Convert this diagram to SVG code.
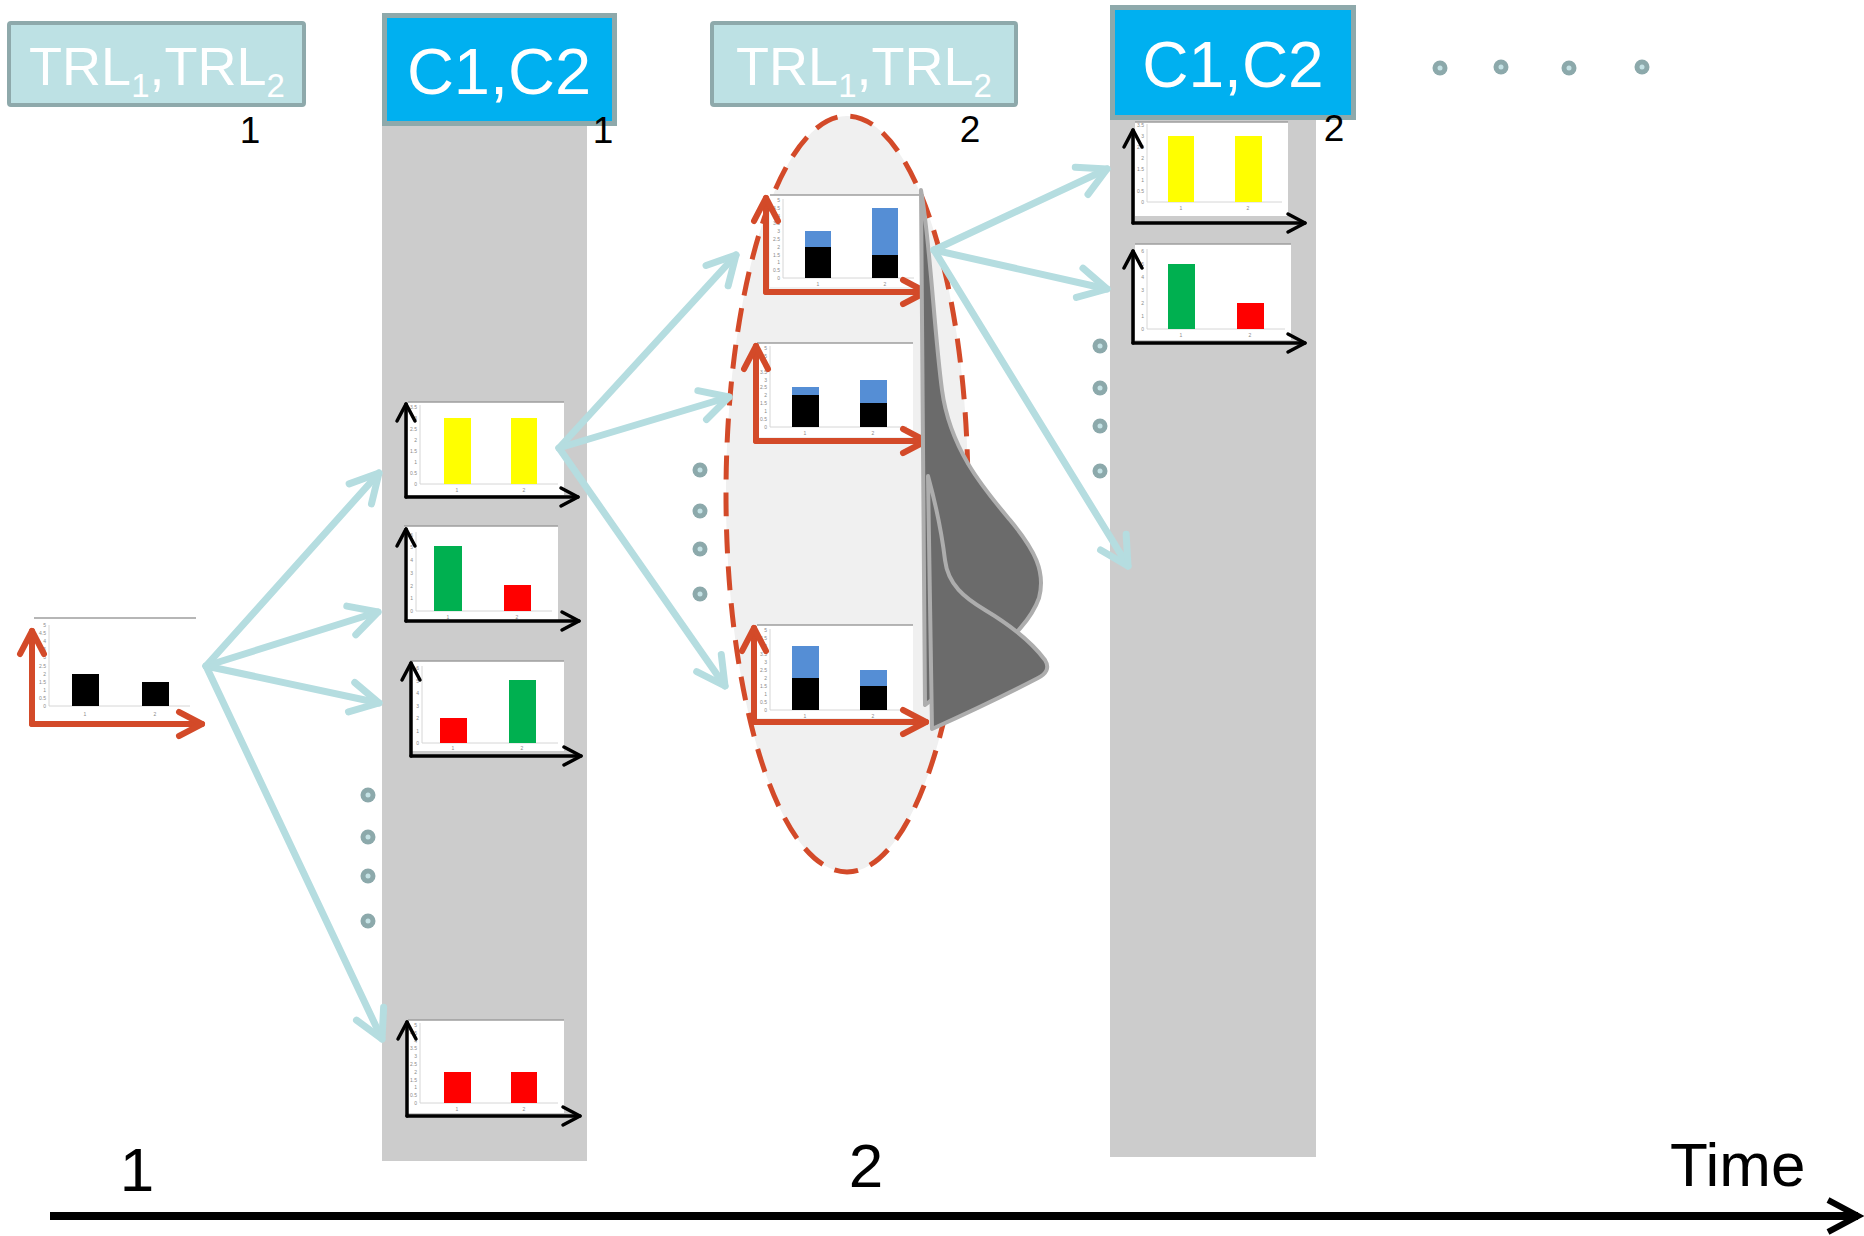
<svg xmlns="http://www.w3.org/2000/svg" width="1864" height="1236" viewBox="0 0 1864 1236">
  <defs>
    <style>
      text { font-family: "Liberation Sans", Arial, sans-serif; }
      .trl { fill: #BDE1E4; stroke: #8EA9AB; stroke-width: 4; }
      .cc { fill: #00B0F0; stroke: #8EA9AB; stroke-width: 5; }
      .hdr { fill: #FFFFFF; text-anchor: middle; }
      .idx { fill: #000; font-size: 37px; text-anchor: middle; }
      .col { fill: #CCCCCC; }
      .frame { fill: #FFFFFF; }
      .topline { stroke: #9E9E9E; stroke-width: 1.5; }
      .plot { stroke: #D6D6D6; stroke-width: 1; fill: none; }
      .tk { font-size: 5px; fill: #8A8A8A; text-anchor: end; }
      .xl { font-size: 5px; fill: #8A8A8A; text-anchor: middle; }
      .k { fill: #000; }
      .bl { fill: #558ED5; }
      .ye { fill: #FFFF00; }
      .gr { fill: #00B050; }
      .rd { fill: #FF0000; }
      .ax-k { stroke: #000; stroke-width: 3.5; fill: none; stroke-linecap: round; marker-end: url(#hdK); }
      .ax-r { stroke: #D34A29; stroke-width: 6; fill: none; stroke-linecap: round; marker-end: url(#hdR); }
      .conn { stroke: #B5DDE0; stroke-width: 7; fill: none; stroke-linecap: round; marker-end: url(#hdB); }
      .dot { fill: #8CA9AB; }
      .dotc { fill: #C4E2E5; }
      .dist { fill: #6B6B6B; stroke: #ADADAD; stroke-width: 4; stroke-linejoin: round; }
    </style>
    <marker id="hdB" markerUnits="userSpaceOnUse" markerWidth="60" markerHeight="60" refX="0" refY="0" orient="auto" overflow="visible">
      <path d="M-28,-15 L0,0 L-28,15" fill="none" stroke="#B5DDE0" stroke-width="7" stroke-linecap="round" stroke-linejoin="round"/>
    </marker>
    <marker id="hdR" markerUnits="userSpaceOnUse" markerWidth="50" markerHeight="50" refX="0" refY="0" orient="auto" overflow="visible">
      <path d="M-23,-12 L0,0 L-23,12" fill="none" stroke="#D34A29" stroke-width="6" stroke-linecap="round" stroke-linejoin="round"/>
    </marker>
    <marker id="hdK" markerUnits="userSpaceOnUse" markerWidth="40" markerHeight="40" refX="0" refY="0" orient="auto" overflow="visible">
      <path d="M-17,-9 L0,0 L-17,9" fill="none" stroke="#000" stroke-width="3.5" stroke-linecap="round" stroke-linejoin="round"/>
    </marker>
    <marker id="hdT" markerUnits="userSpaceOnUse" markerWidth="60" markerHeight="60" refX="0" refY="0" orient="auto" overflow="visible">
      <path d="M-30,-16 L0,0 L-30,16" fill="none" stroke="#000" stroke-width="6" stroke-linejoin="miter"/>
    </marker>
  </defs>

  <rect width="1864" height="1236" fill="#FFFFFF"/>

  <!-- time steps: grey columns -->
  <rect id="column-1" class="col" x="382" y="126" width="205" height="1035"/>
  <rect id="column-2" class="col" x="1110" y="119" width="206" height="1038"/>

  <!-- header boxes -->
  <g id="trl-1">
    <rect class="trl" x="9" y="23" width="295" height="82" rx="2"/>
    <text class="hdr" x="157" y="85" font-size="54">TRL<tspan font-size="33" dy="12">1</tspan><tspan dy="-12">,TRL</tspan><tspan font-size="33" dy="12">2</tspan></text>
    <text class="idx" x="250" y="143">1</text>
  </g>
  <g id="c-1">
    <rect class="cc" x="384.5" y="15.5" width="230" height="108"/>
    <text class="hdr" x="499" y="94" font-size="65">C1,C2</text>
    <text class="idx" x="603" y="143">1</text>
  </g>
  <g id="trl-2">
    <rect class="trl" x="712" y="23" width="304" height="82" rx="2"/>
    <text class="hdr" x="864" y="85" font-size="54">TRL<tspan font-size="33" dy="12">1</tspan><tspan dy="-12">,TRL</tspan><tspan font-size="33" dy="12">2</tspan></text>
    <text class="idx" x="970" y="142">2</text>
  </g>
  <g id="c-2">
    <rect class="cc" x="1112.5" y="7.5" width="241" height="110"/>
    <text class="hdr" x="1233" y="87" font-size="64">C1,C2</text>
    <text class="idx" x="1334" y="141">2</text>
  </g>

  <!-- sampled set -->
  <g id="sample-set">
    <ellipse cx="847" cy="494" rx="121" ry="378" fill="#F0F0F0" stroke="#D34A29" stroke-width="5" stroke-dasharray="24 13"/>
  </g>

  <!-- initial state chart -->
  <g id="chart-initial">
    <rect class="frame" x="34" y="618" width="162" height="102"/>
    <line class="topline" x1="34" y1="618" x2="196" y2="618"/>
    <path class="plot" d="M49,625 V706 H190"/>
    <text class="tk"><tspan x="46" y="708">0</tspan><tspan x="46" y="700">0.5</tspan><tspan x="46" y="692">1</tspan><tspan x="46" y="684">1.5</tspan><tspan x="46" y="676">2</tspan><tspan x="46" y="668">2.5</tspan><tspan x="46" y="659">3</tspan><tspan x="46" y="651">3.5</tspan><tspan x="46" y="643">4</tspan><tspan x="46" y="635">4.5</tspan><tspan x="46" y="627">5</tspan></text>
    <rect class="k" x="72" y="674" width="27" height="32"/>
    <rect class="k" x="142" y="682" width="27" height="24"/>
    <text class="xl"><tspan x="85" y="716">1</tspan><tspan x="155" y="716">2</tspan></text>
    <path class="ax-r" d="M32,724 V631"/>
    <path class="ax-r" d="M32,724 H202"/>
  </g>

  <!-- column 1 charts -->
  <g id="chart-1a">
    <rect class="frame" x="408" y="402" width="156" height="93"/>
    <line class="topline" x1="408" y1="402" x2="564" y2="402"/>
    <path class="plot" d="M420,405 V484 H558"/>
    <text class="tk"><tspan x="417" y="486">0</tspan><tspan x="417" y="475">0.5</tspan><tspan x="417" y="464">1</tspan><tspan x="417" y="453">1.5</tspan><tspan x="417" y="442">2</tspan><tspan x="417" y="431">2.5</tspan><tspan x="417" y="420">3</tspan><tspan x="417" y="409">3.5</tspan></text>
    <rect class="ye" x="444" y="418" width="27" height="66"/>
    <rect class="ye" x="511" y="418" width="26" height="66"/>
    <text class="xl"><tspan x="457" y="492">1</tspan><tspan x="524" y="492">2</tspan></text>
    <path class="ax-k" d="M406,497 V404"/>
    <path class="ax-k" d="M406,497 H578"/>
  </g>
  <g id="chart-1b">
    <rect class="frame" x="404" y="526" width="154" height="94"/>
    <line class="topline" x1="404" y1="526" x2="558" y2="526"/>
    <path class="plot" d="M416,532 V611 H552"/>
    <text class="tk"><tspan x="413" y="613">0</tspan><tspan x="413" y="600">1</tspan><tspan x="413" y="588">2</tspan><tspan x="413" y="575">3</tspan><tspan x="413" y="562">4</tspan><tspan x="413" y="549">5</tspan><tspan x="413" y="537">6</tspan></text>
    <rect class="gr" x="434" y="546" width="28" height="65"/>
    <rect class="rd" x="504" y="585" width="27" height="26"/>
    <text class="xl"><tspan x="448" y="619">1</tspan><tspan x="517" y="619">2</tspan></text>
    <path class="ax-k" d="M406,621 V529"/>
    <path class="ax-k" d="M406,621 H579"/>
  </g>
  <g id="chart-1c">
    <rect class="frame" x="410" y="661" width="154" height="90"/>
    <line class="topline" x1="410" y1="661" x2="564" y2="661"/>
    <path class="plot" d="M422,666 V743 H558"/>
    <text class="tk"><tspan x="419" y="745">0</tspan><tspan x="419" y="733">1</tspan><tspan x="419" y="720">2</tspan><tspan x="419" y="708">3</tspan><tspan x="419" y="695">4</tspan><tspan x="419" y="683">5</tspan><tspan x="419" y="670">6</tspan></text>
    <rect class="rd" x="440" y="718" width="27" height="25"/>
    <rect class="gr" x="509" y="680" width="27" height="63"/>
    <text class="xl"><tspan x="453" y="750">1</tspan><tspan x="522" y="750">2</tspan></text>
    <path class="ax-k" d="M411,756 V663"/>
    <path class="ax-k" d="M411,756 H581"/>
  </g>
  <g id="chart-1d">
    <rect class="frame" x="408" y="1020" width="156" height="93"/>
    <line class="topline" x1="408" y1="1020" x2="564" y2="1020"/>
    <path class="plot" d="M420,1023 V1103 H558"/>
    <text class="tk"><tspan x="417" y="1105">0</tspan><tspan x="417" y="1097">0.5</tspan><tspan x="417" y="1089">1</tspan><tspan x="417" y="1082">1.5</tspan><tspan x="417" y="1074">2</tspan><tspan x="417" y="1066">2.5</tspan><tspan x="417" y="1058">3</tspan><tspan x="417" y="1050">3.5</tspan><tspan x="417" y="1043">4</tspan><tspan x="417" y="1035">4.5</tspan><tspan x="417" y="1027">5</tspan></text>
    <rect class="rd" x="444" y="1072" width="27" height="31"/>
    <rect class="rd" x="511" y="1072" width="26" height="31"/>
    <text class="xl"><tspan x="457" y="1111">1</tspan><tspan x="524" y="1111">2</tspan></text>
    <path class="ax-k" d="M407,1116 V1022"/>
    <path class="ax-k" d="M407,1116 H580"/>
  </g>

  <!-- sampled charts inside the dashed set -->
  <g id="chart-2a">
    <rect class="frame" x="770" y="195" width="150" height="92"/>
    <line class="topline" x1="770" y1="195" x2="920" y2="195"/>
    <path class="plot" d="M783,199 V278 H914"/>
    <text class="tk"><tspan x="780" y="280">0</tspan><tspan x="780" y="272">0.5</tspan><tspan x="780" y="264">1</tspan><tspan x="780" y="257">1.5</tspan><tspan x="780" y="249">2</tspan><tspan x="780" y="241">2.5</tspan><tspan x="780" y="233">3</tspan><tspan x="780" y="225">3.5</tspan><tspan x="780" y="218">4</tspan><tspan x="780" y="210">4.5</tspan><tspan x="780" y="202">5</tspan></text>
    <rect class="bl" x="805" y="231" width="26" height="16"/>
    <rect class="k" x="805" y="247" width="26" height="31"/>
    <rect class="bl" x="872" y="208" width="26" height="47"/>
    <rect class="k" x="872" y="255" width="26" height="23"/>
    <text class="xl"><tspan x="818" y="286">1</tspan><tspan x="885" y="286">2</tspan></text>
    <path class="ax-r" d="M766,292 V198"/>
    <path class="ax-r" d="M766,292 H926"/>
  </g>
  <g id="chart-2b">
    <rect class="frame" x="757" y="343" width="156" height="94"/>
    <line class="topline" x1="757" y1="343" x2="913" y2="343"/>
    <path class="plot" d="M770,346 V427 H907"/>
    <text class="tk"><tspan x="767" y="429">0</tspan><tspan x="767" y="421">0.5</tspan><tspan x="767" y="413">1</tspan><tspan x="767" y="405">1.5</tspan><tspan x="767" y="397">2</tspan><tspan x="767" y="389">2.5</tspan><tspan x="767" y="382">3</tspan><tspan x="767" y="374">3.5</tspan><tspan x="767" y="366">4</tspan><tspan x="767" y="358">4.5</tspan><tspan x="767" y="350">5</tspan></text>
    <rect class="bl" x="792" y="387" width="27" height="8"/>
    <rect class="k" x="792" y="395" width="27" height="32"/>
    <rect class="bl" x="860" y="380" width="27" height="23"/>
    <rect class="k" x="860" y="403" width="27" height="24"/>
    <text class="xl"><tspan x="805" y="435">1</tspan><tspan x="873" y="435">2</tspan></text>
    <path class="ax-r" d="M756,441 V346"/>
    <path class="ax-r" d="M756,441 H926"/>
  </g>
  <g id="chart-2c">
    <rect class="frame" x="757" y="625" width="156" height="93"/>
    <line class="topline" x1="757" y1="625" x2="913" y2="625"/>
    <path class="plot" d="M770,629 V710 H907"/>
    <text class="tk"><tspan x="767" y="712">0</tspan><tspan x="767" y="704">0.5</tspan><tspan x="767" y="696">1</tspan><tspan x="767" y="688">1.5</tspan><tspan x="767" y="680">2</tspan><tspan x="767" y="672">2.5</tspan><tspan x="767" y="664">3</tspan><tspan x="767" y="656">3.5</tspan><tspan x="767" y="648">4</tspan><tspan x="767" y="640">4.5</tspan><tspan x="767" y="632">5</tspan></text>
    <rect class="bl" x="792" y="646" width="27" height="32"/>
    <rect class="k" x="792" y="678" width="27" height="32"/>
    <rect class="bl" x="860" y="670" width="27" height="16"/>
    <rect class="k" x="860" y="686" width="27" height="24"/>
    <text class="xl"><tspan x="805" y="718">1</tspan><tspan x="873" y="718">2</tspan></text>
    <path class="ax-r" d="M754,722 V628"/>
    <path class="ax-r" d="M754,722 H926"/>
  </g>

  <!-- weight distribution over the sampled set -->
  <g id="distribution">
    <path class="dist" d="M921,190 C930,240 934,330 942,390 C950,450 985,490 1010,520 C1035,550 1046,572 1039,598 C1032,618 1012,640 990,655 L925,705 Z"/>
    <path class="dist" d="M928,476 C936,505 942,535 945,560 C948,585 965,598 985,610 C1005,622 1030,640 1045,660 C1050,668 1046,674 1038,678 C1015,690 985,705 932,729 Z"/>
  </g>

  <!-- column 2 charts -->
  <g id="chart-3a">
    <rect class="frame" x="1135" y="122" width="153" height="94"/>
    <line class="topline" x1="1135" y1="122" x2="1288" y2="122"/>
    <path class="plot" d="M1147,124 V202 H1282"/>
    <text class="tk"><tspan x="1144" y="204">0</tspan><tspan x="1144" y="193">0.5</tspan><tspan x="1144" y="182">1</tspan><tspan x="1144" y="171">1.5</tspan><tspan x="1144" y="160">2</tspan><tspan x="1144" y="149">2.5</tspan><tspan x="1144" y="138">3</tspan><tspan x="1144" y="127">3.5</tspan></text>
    <rect class="ye" x="1168" y="136" width="26" height="66"/>
    <rect class="ye" x="1235" y="136" width="27" height="66"/>
    <text class="xl"><tspan x="1181" y="210">1</tspan><tspan x="1248" y="210">2</tspan></text>
    <path class="ax-k" d="M1133,223 V130"/>
    <path class="ax-k" d="M1133,223 H1305"/>
  </g>
  <g id="chart-3b">
    <rect class="frame" x="1135" y="244" width="156" height="96"/>
    <line class="topline" x1="1135" y1="244" x2="1291" y2="244"/>
    <path class="plot" d="M1147,249 V329 H1285"/>
    <text class="tk"><tspan x="1144" y="331">0</tspan><tspan x="1144" y="318">1</tspan><tspan x="1144" y="305">2</tspan><tspan x="1144" y="292">3</tspan><tspan x="1144" y="279">4</tspan><tspan x="1144" y="266">5</tspan><tspan x="1144" y="253">6</tspan></text>
    <rect class="gr" x="1168" y="264" width="27" height="65"/>
    <rect class="rd" x="1237" y="303" width="27" height="26"/>
    <text class="xl"><tspan x="1181" y="337">1</tspan><tspan x="1250" y="337">2</tspan></text>
    <path class="ax-k" d="M1133,343 V251"/>
    <path class="ax-k" d="M1133,343 H1305"/>
  </g>

  <!-- ellipsis dots -->
  <g id="dots">
    <g>
      <circle class="dot" cx="1440" cy="68" r="7.5"/><circle class="dotc" cx="1440" cy="68" r="2.5"/>
      <circle class="dot" cx="1501" cy="67" r="7.5"/><circle class="dotc" cx="1501" cy="67" r="2.5"/>
      <circle class="dot" cx="1569" cy="68" r="7.5"/><circle class="dotc" cx="1569" cy="68" r="2.5"/>
      <circle class="dot" cx="1642" cy="67" r="7.5"/><circle class="dotc" cx="1642" cy="67" r="2.5"/>
    </g>
    <g>
      <circle class="dot" cx="368" cy="795" r="7.5"/><circle class="dotc" cx="368" cy="795" r="2.5"/>
      <circle class="dot" cx="368" cy="837" r="7.5"/><circle class="dotc" cx="368" cy="837" r="2.5"/>
      <circle class="dot" cx="368" cy="876" r="7.5"/><circle class="dotc" cx="368" cy="876" r="2.5"/>
      <circle class="dot" cx="368" cy="921" r="7.5"/><circle class="dotc" cx="368" cy="921" r="2.5"/>
    </g>
    <g>
      <circle class="dot" cx="700" cy="470" r="7.5"/><circle class="dotc" cx="700" cy="470" r="2.5"/>
      <circle class="dot" cx="700" cy="511" r="7.5"/><circle class="dotc" cx="700" cy="511" r="2.5"/>
      <circle class="dot" cx="700" cy="549" r="7.5"/><circle class="dotc" cx="700" cy="549" r="2.5"/>
      <circle class="dot" cx="700" cy="594" r="7.5"/><circle class="dotc" cx="700" cy="594" r="2.5"/>
    </g>
    <g>
      <circle class="dot" cx="1100" cy="346" r="7.5"/><circle class="dotc" cx="1100" cy="346" r="2.5"/>
      <circle class="dot" cx="1100" cy="388" r="7.5"/><circle class="dotc" cx="1100" cy="388" r="2.5"/>
      <circle class="dot" cx="1100" cy="426" r="7.5"/><circle class="dotc" cx="1100" cy="426" r="2.5"/>
      <circle class="dot" cx="1100" cy="471" r="7.5"/><circle class="dotc" cx="1100" cy="471" r="2.5"/>
    </g>
  </g>

  <!-- transitions -->
  <g id="connectors">
    <line class="conn" x1="206" y1="666" x2="379" y2="473"/>
    <line class="conn" x1="206" y1="666" x2="378" y2="612"/>
    <line class="conn" x1="206" y1="666" x2="379" y2="703"/>
    <line class="conn" x1="206" y1="666" x2="382" y2="1039"/>
    <line class="conn" x1="559" y1="448" x2="736" y2="255"/>
    <line class="conn" x1="559" y1="448" x2="729" y2="397"/>
    <line class="conn" x1="559" y1="448" x2="725" y2="686"/>
    <line class="conn" x1="934" y1="250" x2="1107" y2="169"/>
    <line class="conn" x1="934" y1="250" x2="1107" y2="289"/>
    <line class="conn" x1="934" y1="250" x2="1128" y2="566"/>
  </g>

  <!-- time axis -->
  <g id="time-axis">
    <line x1="50" y1="1216" x2="1858" y2="1216" stroke="#000" stroke-width="8" marker-end="url(#hdT)"/>
    <text x="137" y="1191" font-size="62" text-anchor="middle">1</text>
    <text x="866" y="1187" font-size="62" text-anchor="middle">2</text>
    <text x="1670" y="1186" font-size="62">Time</text>
  </g>
</svg>
